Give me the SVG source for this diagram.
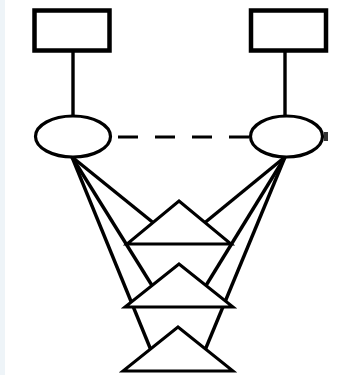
<svg xmlns="http://www.w3.org/2000/svg" width="350" height="375" viewBox="0 0 350 375">
<style>
.box{fill:#fff;stroke:#000;stroke-width:4.5}
.ell{fill:#fff;stroke:#000;stroke-width:3.2}
.tri{fill:#fff;stroke:#000;stroke-width:3;stroke-linejoin:miter}
.ln{stroke:#000;stroke-width:3.4;fill:none}
.dash{stroke:#000;stroke-width:3;stroke-dasharray:20 17;fill:none}
</style>
<rect x="0" y="0" width="350" height="375" fill="#fff"/>
<rect x="0" y="0" width="5" height="375" fill="#eef4f8"/>
<g id="connectors">
<line class="ln" x1="73" y1="52" x2="73" y2="116"/>
<line class="ln" x1="285" y1="52" x2="285" y2="116"/>
<line class="dash" x1="118" y1="137" x2="250" y2="137"/>
<line class="ln" x1="72" y1="157" x2="153" y2="222.5"/>
<line class="ln" x1="72" y1="157" x2="152" y2="285.5"/>
<line class="ln" x1="72" y1="157" x2="150.5" y2="349"/>
<line class="ln" x1="285" y1="157" x2="205" y2="222.5"/>
<line class="ln" x1="285" y1="157" x2="206" y2="285.5"/>
<line class="ln" x1="285" y1="157" x2="205.5" y2="349"/>
</g>
<g id="box1"><rect class="box" x="34.5" y="10.5" width="75" height="40"/></g>
<g id="box2"><rect class="box" x="251" y="10.5" width="75" height="40"/></g>
<g id="ellipse1"><ellipse class="ell" cx="73" cy="136.5" rx="37.5" ry="20.5"/></g>
<g id="ellipse2"><ellipse class="ell" cx="286.5" cy="136.5" rx="36" ry="20.5"/><rect x="324" y="132" width="4" height="9" fill="#333"/></g>
<g id="tri1"><polygon class="tri" points="179,201 231,244 127,244"/></g>
<g id="tri2"><polygon class="tri" points="179,264 233,307 125,307"/></g>
<g id="tri3"><polygon class="tri" points="178,327 233,371 123,371"/></g>
</svg>
